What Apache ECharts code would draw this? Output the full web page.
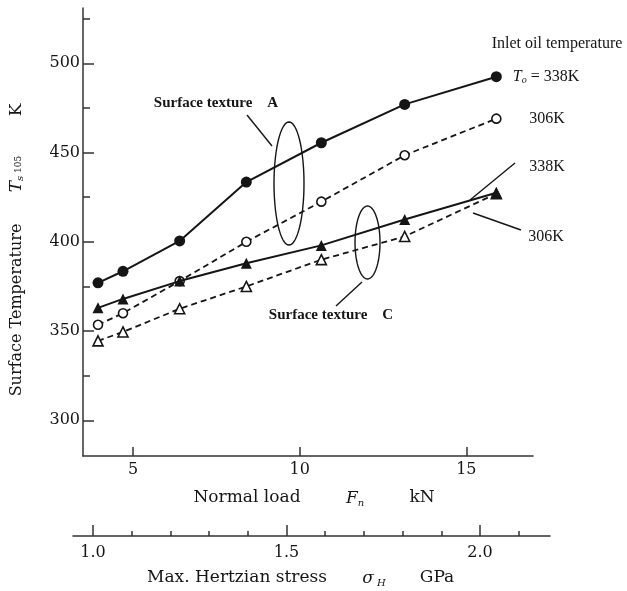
<!DOCTYPE html>
<html><head><meta charset="utf-8">
<script src="https://cdn.jsdelivr.net/npm/echarts@6/dist/echarts.min.js"></script>
<style>html,body{margin:0;padding:0;background:#fff}#c{width:627px;height:591px}</style>
</head><body><div id="c"></div>
<script>
// ---- data ----
const loads = [3.95, 4.7, 6.4, 8.4, 10.65, 13.15, 15.9];          // Normal load Fn, kN
const texA338 = [377, 383.5, 400.5, 433.5, 455.5, 477, 492.5];    // Surface texture A, To = 338K
const texA306 = [353.5, 360, 378, 400, 422.5, 448.5, 469];        // Surface texture A, 306K
const texC338 = [363, 368, 378, 388, 398, 412.5, 427.5];          // Surface texture C, 338K
const texC306 = [344.5, 349.5, 362.5, 375, 390, 403, 427];        // Surface texture C, 306K
const loadTicks = [5, 10, 15];
const tempTicks = [300, 350, 400, 450, 500];
const tempMinorTicks = [325, 375, 425, 475, 525];
const stressTicks = [1.0, 1.5, 2.0];
const stressMinorTicks = [1.1, 1.2, 1.3, 1.4, 1.6, 1.7, 1.8, 1.9, 2.1];

const INK = '#151515';
const SERIF = 'DejaVu Serif';
const TIMES = 'Liberation Serif';

function pairs(xs, ys) { return xs.map((x, i) => [x, ys[i]]); }
function mk(name, vals, symbol, filled, dashed) {
  return {
    name, type: 'line', xAxisIndex: 0, yAxisIndex: 0,
    data: pairs(loads, vals), symbol,
    symbolSize: filled ? 11 : (symbol === 'circle' ? 9 : 10),
    showSymbol: true, silent: true,
    lineStyle: { color: INK, width: dashed ? 1.8 : 2, type: dashed ? [6, 4] : 'solid' },
    itemStyle: filled ? { color: INK, borderWidth: 0 } : { color: '#fff', borderColor: INK, borderWidth: 1.6 },
    z: dashed ? 2 : 3
  };
}
function ellipse(cx, cy, rx, ry) {
  const pts = [];
  for (let i = 0; i < 72; i++) {
    const t = i / 72 * Math.PI * 2;
    pts.push([cx + rx * Math.cos(t), cy + ry * Math.sin(t)]);
  }
  return { type: 'polygon', shape: { points: pts }, style: { fill: null, stroke: INK, lineWidth: 1.4 }, silent: true };
}
function seg(x1, y1, x2, y2) {
  return { type: 'line', shape: { x1, y1, x2, y2 }, style: { stroke: INK, lineWidth: 1.4 }, silent: true };
}
function txt(x, y, text, opts, rot) {
  return { type: 'text', x, y, silent: true, rotation: rot || 0,
    style: Object.assign({ text, fill: INK, align: 'center', verticalAlign: 'middle', fontFamily: SERIF, fontSize: 17 }, opts || {}) };
}

const axisLineStyle = { color: '#333', width: 1.5 };

const option = {
  animation: false,
  backgroundColor: '#fff',
  grid: [
    { left: 83, top: 8, width: 450, height: 448 },
    { left: 73, top: 500, width: 477, height: 36 }
  ],
  xAxis: [
    { type: 'value', gridIndex: 0, min: 3.5, max: 17, position: 'bottom',
      axisLine: { show: true, lineStyle: axisLineStyle },
      axisTick: { show: true, inside: true, length: 9, customValues: loadTicks, lineStyle: axisLineStyle },
      axisLabel: { show: true, customValues: loadTicks, margin: 6, color: INK, fontFamily: SERIF, fontSize: 16 },
      splitLine: { show: false } },
    { type: 'value', gridIndex: 1, min: 0.9483, max: 2.1809, position: 'bottom',
      axisLine: { show: true, lineStyle: axisLineStyle },
      axisTick: { show: true, inside: true, length: 11, customValues: stressTicks, lineStyle: axisLineStyle },
      axisLabel: { show: true, customValues: stressTicks, margin: 9, color: INK, fontFamily: SERIF, fontSize: 16,
        formatter: v => v.toFixed(1) },
      splitLine: { show: false } },
    { type: 'value', gridIndex: 1, min: 0.9483, max: 2.1809, position: 'bottom',
      axisLine: { show: false },
      axisTick: { show: true, inside: true, length: 5, customValues: stressMinorTicks, lineStyle: axisLineStyle },
      axisLabel: { show: false },
      splitLine: { show: false } }
  ],
  yAxis: [
    { type: 'value', gridIndex: 0, min: 280, max: 531, position: 'left',
      axisLine: { show: true, lineStyle: axisLineStyle },
      axisTick: { show: true, inside: true, length: 11, customValues: tempTicks, lineStyle: axisLineStyle },
      axisLabel: { show: true, customValues: tempTicks, margin: 3, color: INK, fontFamily: SERIF, fontSize: 16 },
      splitLine: { show: false } },
    { type: 'value', gridIndex: 0, min: 280, max: 531, position: 'left', offset: 0,
      axisLine: { show: false },
      axisTick: { show: true, inside: true, length: 7, customValues: tempMinorTicks, lineStyle: axisLineStyle },
      axisLabel: { show: false },
      splitLine: { show: false } },
    { type: 'value', gridIndex: 1, show: false, min: 0, max: 1 }
  ],
  series: [
    mk('A 306K', texA306, 'circle', false, true),
    mk('C 306K', texC306, 'triangle', false, true),
    mk('A 338K', texA338, 'circle', true, false),
    mk('C 338K', texC338, 'triangle', true, false)
  ],
  graphic: [
    // y-axis title (rotated)
    txt(17, 310, 'Surface Temperature', { fontSize: 16 }, Math.PI / 2),
    txt(17, 174, '{T|T}{s|s}{n| 105}', {
      rich: { T: { fontFamily: SERIF, fontStyle: 'italic', fontSize: 17, fill: INK },
              s: { fontFamily: SERIF, fontStyle: 'italic', fontSize: 10, fill: INK, padding: [7, 0, 0, 0] },
              n: { fontFamily: SERIF, fontSize: 9, fill: INK, padding: [4, 0, 0, 0] } } }, Math.PI / 2),
    txt(17, 110, 'K', { fontSize: 17 }, Math.PI / 2),
    // x-axis title
    txt(247, 498, 'Normal load', { fontSize: 17 }),
    txt(355, 499, '{F|F}{n|n}', { rich: {
      F: { fontFamily: SERIF, fontStyle: 'italic', fontSize: 17, fill: INK },
      n: { fontFamily: SERIF, fontStyle: 'italic', fontSize: 10, fill: INK, padding: [8, 0, 0, 0] } } }),
    txt(422, 498, 'kN', { fontSize: 17 }),
    // second axis title
    txt(237, 578, 'Max. Hertzian stress', { fontSize: 17 }),
    txt(374, 579, '{s|σ}{h| H}', { rich: {
      s: { fontFamily: SERIF, fontStyle: 'italic', fontSize: 17, fill: INK },
      h: { fontFamily: SERIF, fontStyle: 'italic', fontSize: 10, fill: INK, padding: [8, 0, 0, 0] } } }),
    txt(437, 578, 'GPa', { fontSize: 17 }),
    // legend-like annotations
    txt(557, 44, 'Inlet oil temperature', { fontFamily: TIMES, fontSize: 16 }),
    txt(546, 77, '{T|T}{o|o}{r| = 338K}', { rich: {
      T: { fontFamily: TIMES, fontStyle: 'italic', fontSize: 16, fill: INK },
      o: { fontFamily: TIMES, fontStyle: 'italic', fontSize: 10, fill: INK, padding: [7, 0, 0, 0] },
      r: { fontFamily: TIMES, fontSize: 16, fill: INK } } }),
    txt(547, 119, '306K', { fontFamily: TIMES, fontSize: 16 }),
    txt(547, 167, '338K', { fontFamily: TIMES, fontSize: 16 }),
    txt(546, 237, '306K', { fontFamily: TIMES, fontSize: 16 }),
    txt(216, 103, 'Surface texture    A', { fontFamily: TIMES, fontSize: 15, fontWeight: 'bold' }),
    txt(331, 315, 'Surface texture    C', { fontFamily: TIMES, fontSize: 15, fontWeight: 'bold' }),
    // ellipses and leader lines
    ellipse(289, 183.5, 15, 61.5),
    ellipse(367.5, 242.5, 12.5, 36.5),
    seg(247, 115, 272, 146),
    seg(362, 282, 336, 306),
    seg(515, 163, 470, 200),
    seg(473, 213, 521, 230)
  ]
};

const chart = echarts.init(document.getElementById('c'), null, { renderer: 'canvas' });
chart.setOption(option);
</script>
</body></html>
